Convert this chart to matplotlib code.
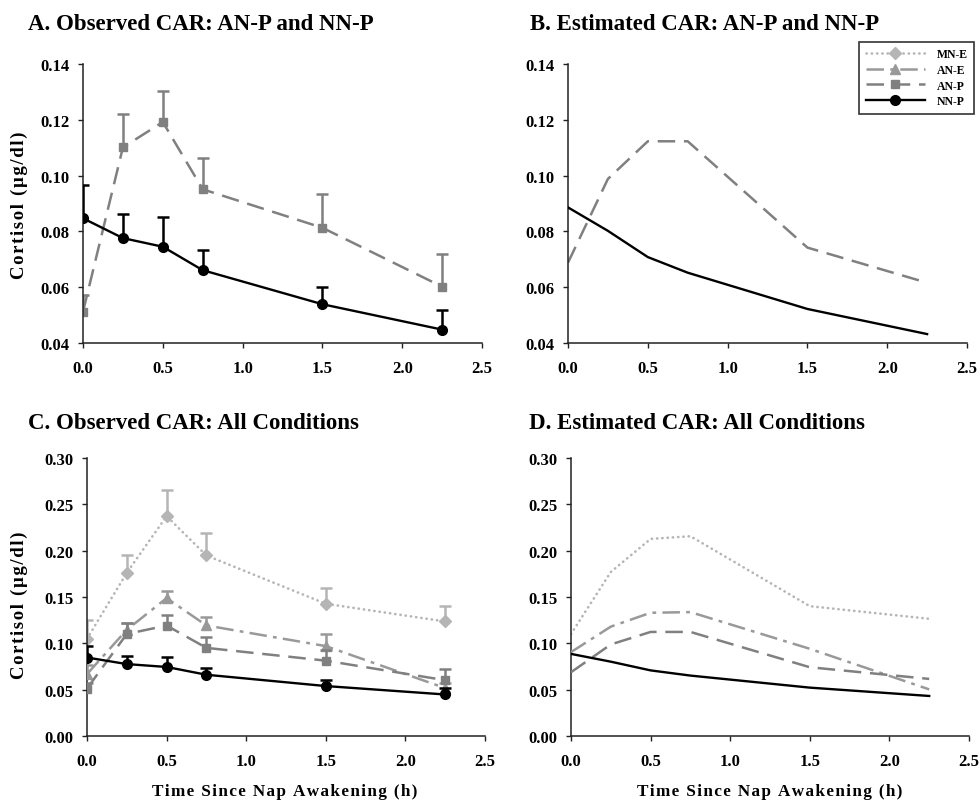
import numpy as np
import matplotlib
matplotlib.use("Agg")
import matplotlib.pyplot as plt

plt.rcParams['font.family'] = ['Liberation Serif', 'DejaVu Serif']
plt.rcParams['font.weight'] = 'bold'

# tiempos de muestreo (h desde el despertar)
tiempos = [0.0, 0.25, 0.5, 0.75, 1.5, 2.25]

# cortisol observado (media) y error estandar (solo hacia arriba)
obs_nnp = [0.0847, 0.0776, 0.0745, 0.0661, 0.0539, 0.0448]
err_nnp = [0.0120, 0.0086, 0.0105, 0.0073, 0.0063, 0.0070]
obs_anp = [0.0512, 0.1101, 0.1192, 0.0951, 0.0813, 0.0602]
err_anp = [0.0060, 0.0118, 0.0113, 0.0112, 0.0120, 0.0116]
obs_ane = [0.0668, 0.1146, 0.1488, 0.1193, 0.0970, 0.0517]
err_ane = [0.0094, 0.0076, 0.0082, 0.0090, 0.0133, 0.0050]
obs_mne = [0.1049, 0.1761, 0.2372, 0.1948, 0.1427, 0.1236]
err_mne = [0.0198, 0.0187, 0.0287, 0.0240, 0.0168, 0.0165]

# cortisol estimado por el modelo
est_nnp = [0.0886, 0.0802, 0.0708, 0.0652, 0.0522, 0.0432]
est_anp = [0.0688, 0.0988, 0.1123, 0.1123, 0.0742, 0.0616]
est_ane = [0.0905, 0.1180, 0.1330, 0.1337, 0.0941, 0.0503]
est_mne = [0.1100, 0.1770, 0.2127, 0.2156, 0.1401, 0.1265]

titulos = ["A. Observed CAR: AN-P and NN-P", "B. Estimated CAR: AN-P and NN-P",
           "C. Observed CAR: All Conditions", "D. Estimated CAR: All Conditions"]
x_ticks = [0.0, 0.5, 1.0, 1.5, 2.0, 2.5]

# estilo de cada condicion
estilos = {
    'MN-E': dict(color='#b5b5b5', marker='D', dashes=(0.1, 1.9), ms=6.5, lw=1.9),
    'AN-E': dict(color='#999999', marker='^', dashes=(7, 2.5, 1.5, 2.5), ms=7, lw=1.8),
    'AN-P': dict(color='#808080', marker='s', dashes=(7, 3.5), ms=6, lw=1.8),
    'NN-P': dict(color='#000000', marker='o', dashes=None, ms=7, lw=1.7),
}


def espaciar(texto):
    """Separa las letras con un espacio muy fino."""
    return '\u200a'.join(texto)


def curva(ax, x, y, nombre, err=None, z=2):
    st = estilos[nombre]
    if err is not None:
        eb = ax.errorbar(x, y, yerr=[np.zeros(len(err)), err], color=st['color'],
                         elinewidth=1.8, capsize=4.3, capthick=1.8, fmt='none', zorder=z)
        eb[1][0].set_visible(False)
        marker = st['marker']
    else:
        marker = None
    linea, = ax.plot(x, y, color=st['color'], lw=st['lw'], marker=marker,
                     ms=st['ms'], label=nombre, zorder=z + 0.5,
                     dash_capstyle='round' if nombre == 'MN-E' else 'butt')
    if st['dashes'] is not None:
        linea.set_dashes(st['dashes'])
    return linea


def formato(ax, ymin, ymax, paso, fmt):
    ax.set_xlim(0, 2.5)
    ax.set_ylim(ymin, ymax)
    ax.set_xticks(x_ticks)
    ax.set_xticklabels(["%.1f" % t for t in x_ticks])
    ax.set_yticks(np.arange(ymin, ymax + paso / 2, paso))
    ax.yaxis.set_major_formatter(matplotlib.ticker.FormatStrFormatter(fmt))
    for lado in ['top', 'right']:
        ax.spines[lado].set_visible(False)
    for lado in ['left', 'bottom']:
        ax.spines[lado].set_linewidth(1.1)
        ax.spines[lado].set_color('#222222')
    ax.tick_params(axis='both', direction='out', length=3.6, width=1.0,
                   labelsize=12, color='#222222')
    ax.tick_params(axis='x', pad=9)
    ax.tick_params(axis='y', pad=6)


fig = plt.figure(figsize=(9.8, 8.03), dpi=100)
W, H = 980.0, 803.0

ax_a = fig.add_axes([83 / W, 1 - 344 / H, 399 / W, 279 / H])
ax_b = fig.add_axes([568 / W, 1 - 344 / H, 399 / W, 279 / H])
ax_c = fig.add_axes([87 / W, 1 - 737 / H, 398 / W, 278 / H])
ax_d = fig.add_axes([571 / W, 1 - 737 / H, 398 / W, 278 / H])

# A: observado, AN-P y NN-P
curva(ax_a, tiempos, obs_anp, 'AN-P', err_anp, z=2)
curva(ax_a, tiempos, obs_nnp, 'NN-P', err_nnp, z=3)
formato(ax_a, 0.04, 0.14, 0.02, '%.2f')

# B: estimado, AN-P y NN-P
curva(ax_b, tiempos, est_anp, 'AN-P', z=2)
curva(ax_b, tiempos, est_nnp, 'NN-P', z=3)
formato(ax_b, 0.04, 0.14, 0.02, '%.2f')

# C: observado, todas las condiciones
handles = []
handles.append(curva(ax_c, tiempos, obs_mne, 'MN-E', err_mne, z=2))
handles.append(curva(ax_c, tiempos, obs_ane, 'AN-E', err_ane, z=3))
handles.append(curva(ax_c, tiempos, obs_anp, 'AN-P', err_anp, z=4))
handles.append(curva(ax_c, tiempos, obs_nnp, 'NN-P', err_nnp, z=5))
formato(ax_c, 0.0, 0.30, 0.05, '%.2f')

# D: estimado, todas las condiciones
curva(ax_d, tiempos, est_mne, 'MN-E', z=2)
curva(ax_d, tiempos, est_ane, 'AN-E', z=3)
curva(ax_d, tiempos, est_anp, 'AN-P', z=4)
curva(ax_d, tiempos, est_nnp, 'NN-P', z=5)
formato(ax_d, 0.0, 0.30, 0.05, '%.2f')

# titulos de cada panel
pos_titulos = [(28, 24), (530, 24), (28, 424), (529, 424)]
for (px, py), t in zip(pos_titulos, titulos):
    fig.text(px / W, 1 - py / H, t, fontsize=16.5, fontweight='bold',
             ha='left', va='center')

# etiquetas de los ejes
ylab = espaciar("Cortisol (\u00b5g/dl)")
fig.text(19 / W, 1 - 205 / H, ylab, rotation=90, fontsize=13.5,
         fontweight='bold', ha='center', va='center')
fig.text(19 / W, 1 - 605 / H, ylab, rotation=90, fontsize=13.5,
         fontweight='bold', ha='center', va='center')
xlab = espaciar("Time Since Nap Awakening (h)")
fig.text(285 / W, 1 - 792 / H, xlab, fontsize=12.3, fontweight='bold',
         ha='center', va='center')
fig.text(770 / W, 1 - 792 / H, xlab, fontsize=12.3, fontweight='bold',
         ha='center', va='center')

leg = fig.legend(handles, [h.get_label() for h in handles], loc='upper right',
                 bbox_to_anchor=(974 / W, 1 - 43 / H), frameon=True, fancybox=False,
                 fontsize=8.5, handlelength=5.0, numpoints=1, labelspacing=0.3,
                 borderpad=0.55, handletextpad=1.0, borderaxespad=0.0)
leg.get_frame().set_edgecolor('black')
leg.get_frame().set_linewidth(1.2)
for txt in leg.get_texts():
    txt.set_fontweight('bold')

fig.savefig('out.png', dpi=100)
